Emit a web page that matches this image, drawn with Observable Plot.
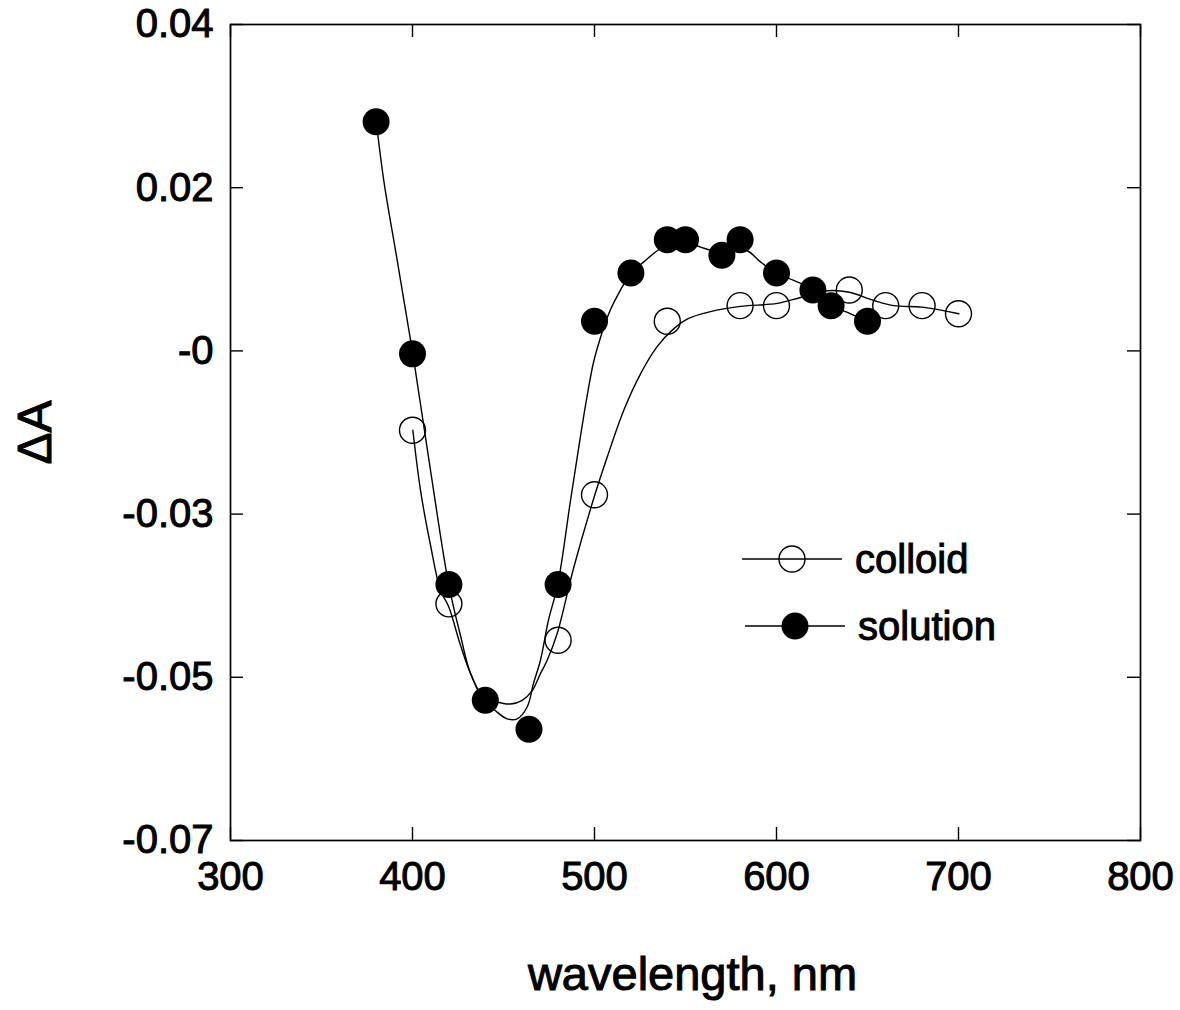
<!DOCTYPE html>
<html>
<head>
<meta charset="utf-8">
<script src="https://cdn.jsdelivr.net/npm/d3@7"></script>
<script src="https://cdn.jsdelivr.net/npm/@observablehq/plot@0.6"></script>
<style>
  html, body { margin: 0; padding: 0; background: #fff; }
  #chart { width: 1180px; height: 1010px; }
  #chart svg text { stroke: #000; stroke-width: 1px; }
</style>
</head>
<body>
<div id="chart"></div>
<script>
// ---------- data ----------
const xTicks = [300, 400, 500, 600, 700, 800];
const yTicks = [0.04, 0.018, -0.004, -0.026, -0.048, -0.07];
const yTickLabels = ["0.04", "0.02", "-0", "-0.03", "-0.05", "-0.07"];

const solutionWavelength = [380, 400, 420, 440, 464, 480, 500, 520, 540, 550, 570, 580, 600, 620, 630, 650];
const solutionDA = [0.0269, -0.0044, -0.0355, -0.0511, -0.0550, -0.0355, 0.0000, 0.0065, 0.0110, 0.0110, 0.0089, 0.0110, 0.0065, 0.0042, 0.0021, 0.0000];

const colloidWavelength = [400, 420, 480, 500, 540, 580, 600, 640, 660, 680, 700];
const colloidDA = [-0.0147, -0.0381, -0.0430, -0.0234, 0.0000, 0.0021, 0.0021, 0.0042, 0.0021, 0.0021, 0.0010];

// fitted curves
const solutionFitWavelength = [380.1, 384.2, 391.6, 400.2, 409.9, 419.9, 426.4, 431.9, 439.7, 445.6, 452.0, 457.5, 463.0, 466.5, 470.3, 474.7, 479.8, 486.8, 492.3, 496.0, 499.5, 503.3, 507.0, 510.6, 520.2, 527.1, 534.5, 541.8, 550.9, 558.2, 565.6, 574.7, 583.9, 591.2, 600, 609.5, 620.5, 630.6, 640.7, 650.2];
const solutionFitDA = [0.0269, 0.0190, 0.0082, -0.0044, -0.0201, -0.0355, -0.0424, -0.0475, -0.0511, -0.0525, -0.0536, -0.0536, -0.0520, -0.0488, -0.0457, -0.0403, -0.0355, -0.0242, -0.0155, -0.0100, -0.0055, -0.0022, 0.0005, 0.0025, 0.0065, 0.0080, 0.0095, 0.0105, 0.0106, 0.0100, 0.0095, 0.0097, 0.0095, 0.0080, 0.0065, 0.0055, 0.0042, 0.0021, 0.0010, 0.0000];

const colloidFitWavelength = [400.2, 404.4, 409.9, 415.4, 419.9, 426.4, 431.9, 439.7, 447.4, 453.8, 460.3, 465.8, 470.3, 474.0, 479.5, 488.6, 500.2, 507.0, 516.1, 525.3, 534.5, 543.6, 550.9, 563.7, 580.2, 600.4, 613.2, 627.9, 640.1, 653.5, 664.5, 680.1, 700.2];
const colloidFitDA = [-0.0147, -0.0228, -0.0302, -0.0363, -0.0385, -0.0437, -0.0475, -0.0511, -0.0514, -0.0516, -0.0511, -0.0498, -0.0475, -0.0457, -0.0421, -0.0332, -0.0234, -0.0183, -0.0120, -0.0071, -0.0034, -0.0010, 0.0003, 0.0013, 0.0020, 0.0024, 0.0032, 0.0041, 0.0039, 0.0028, 0.0021, 0.0019, 0.0010];

const legendLabels = ["colloid", "solution"];
const xLabel = "wavelength, nm";
const yLabel = "ΔA";

// ---------- build ----------
const zip = (xs, ys) => xs.map((x, i) => ({wavelength: x, dA: ys[i]}));
const solution = zip(solutionWavelength, solutionDA);
const colloid = zip(colloidWavelength, colloidDA);
const solutionFit = zip(solutionFitWavelength, solutionFitDA);
const colloidFit = zip(colloidFitWavelength, colloidFitDA);
const yLabelMap = new Map(yTicks.map((t, i) => [t, yTickLabels[i]]));

const W = 1180, H = 1010;
const M = {top: 24, right: 40, bottom: 170, left: 230};
const frameW = W - M.left - M.right;
const frameH = H - M.top - M.bottom;
const tickLen = 13;
const font = "'Liberation Sans', Arial, Helvetica, sans-serif";

const chart = Plot.plot({
  width: W,
  height: H,
  marginTop: M.top,
  marginRight: M.right,
  marginBottom: M.bottom,
  marginLeft: M.left,
  x: {domain: [300, 800]},
  y: {domain: [-0.07, 0.04]},
  style: {fontFamily: font, fontSize: "40px", color: "#000", background: "#fff"},
  marks: [
    Plot.tickY(yTicks, {y: d => d, insetRight: frameW - tickLen, stroke: "#000", strokeWidth: 1.4}),
    Plot.tickY(yTicks, {y: d => d, insetLeft: frameW - tickLen, stroke: "#000", strokeWidth: 1.4}),
    Plot.tickX(xTicks, {x: d => d, insetTop: frameH - tickLen, stroke: "#000", strokeWidth: 1.4}),
    Plot.tickX(xTicks, {x: d => d, insetBottom: frameH - tickLen, stroke: "#000", strokeWidth: 1.4}),
    Plot.frame({stroke: "#000", strokeWidth: 1.7}),
    Plot.axisY({ticks: yTicks, tickSize: 0, tickPadding: 17, tickFormat: d => yLabelMap.get(d), label: null}),
    Plot.axisX({ticks: xTicks, tickSize: 0, tickPadding: 21, tickFormat: d => String(d), label: null}),
    Plot.line(colloidFit, {x: "wavelength", y: "dA", curve: "catmull-rom", stroke: "#000", strokeWidth: 1.4}),
    Plot.line(solutionFit, {x: "wavelength", y: "dA", curve: "catmull-rom", stroke: "#000", strokeWidth: 1.4}),
    Plot.dot(colloid, {x: "wavelength", y: "dA", r: 13, fill: "none", stroke: "#000", strokeWidth: 1.4}),
    Plot.dot(solution, {x: "wavelength", y: "dA", r: 13.5, fill: "#000", stroke: "none"}),
    Plot.text([xLabel], {frameAnchor: "bottom", textAnchor: "middle", lineAnchor: "middle", dx: 7, dy: 134, fontSize: 47, fill: "#000"}),
    Plot.text([yLabel], {frameAnchor: "left", textAnchor: "middle", lineAnchor: "middle", rotate: -90, dx: -195, fontSize: 48, fill: "#000"})
  ]
});

// legend inside the plot frame
const svg = d3.select(chart);
const legendLayout = {x0: 742, lineLen: 100, textGap: 13, rowY: [559, 626], rowShift: [0, 3]};
const lg = svg.append("g").attr("font-family", font).attr("font-size", 40).attr("text-anchor", "start");
legendLabels.forEach((label, i) => {
  const y = legendLayout.rowY[i];
  const x0 = legendLayout.x0 + legendLayout.rowShift[i];
  const x1 = x0 + legendLayout.lineLen;
  lg.append("line").attr("x1", x0).attr("x2", x1).attr("y1", y).attr("y2", y)
    .attr("stroke", "#000").attr("stroke-width", 1.4);
  const c = lg.append("circle").attr("cx", (x0 + x1) / 2).attr("cy", y);
  if (i === 0) c.attr("r", 13).attr("fill", "#fff").attr("fill-opacity", 0).attr("stroke", "#000").attr("stroke-width", 1.4);
  else c.attr("r", 13.5).attr("fill", "#000");
  lg.append("text").attr("x", x1 + legendLayout.textGap).attr("y", y).attr("dy", "0.35em")
    .attr("text-anchor", "start").attr("fill", "#000").text(label);
});

document.getElementById("chart").appendChild(chart);
</script>
</body>
</html>
